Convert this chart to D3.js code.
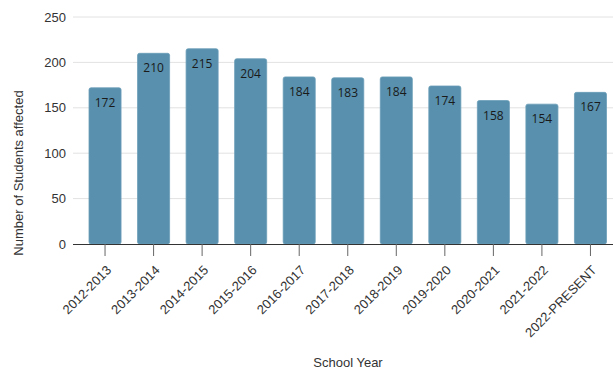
<!DOCTYPE html>
<html><head><meta charset="utf-8">
<script src="https://cdn.jsdelivr.net/npm/d3@7"></script>
<style>body{margin:0;background:#fff;overflow:hidden}svg{display:block}</style>
</head><body>
<script>
const categories = ["2012-2013","2013-2014","2014-2015","2015-2016","2016-2017","2017-2018","2018-2019","2019-2020","2020-2021","2021-2022","2022-PRESENT"];
const values = [172,210,215,204,184,183,184,174,158,154,167];
const yTicks = [0,50,100,150,200,250];

const W = 613, H = 371;
const FONT = "Liberation Sans, Arial, sans-serif";
const svg = d3.select("body").append("svg").attr("width", W).attr("height", H);
const x = d3.scaleBand().domain(categories).range([73, 622.5]).paddingInner(0.34).paddingOuter(0.33);
const y = d3.scaleLinear().domain([0, 250]).range([244, 17]);

// gridlines
svg.append("g").selectAll("line").data(yTicks.filter(d => d > 0)).join("line")
  .attr("x1", 73).attr("x2", W).attr("y1", d => y(d)).attr("y2", d => y(d))
  .attr("stroke", "#e2e2e2").attr("stroke-width", 1);

// y axis labels
const ya = svg.append("g").attr("transform", "translate(73,0)")
  .call(d3.axisLeft(y).tickValues(yTicks).tickSize(0).tickPadding(7));
ya.select(".domain").remove();
ya.selectAll("text").attr("font-family", FONT).attr("font-size", 13).attr("fill", "#333");

// bars
svg.append("g").selectAll("rect").data(values).join("rect")
  .attr("x", (d, i) => x(categories[i]))
  .attr("y", d => y(d))
  .attr("width", x.bandwidth())
  .attr("height", d => y(0) - y(d))
  .attr("rx", 2)
  .attr("fill", "#5890ad")
  .attr("stroke", "#6a9db8").attr("stroke-width", 0.8);

// value labels
svg.append("g").selectAll("text").data(values).join("text")
  .attr("x", (d, i) => x(categories[i]) + x.bandwidth() / 2)
  .attr("y", d => y(d) + 19)
  .attr("text-anchor", "middle")
  .attr("font-family", "Open Sans, DejaVu Sans, sans-serif").attr("font-size", 12)
  .attr("fill", "#1a1a1a")
  .text(d => d);

// x axis
const xa = svg.append("g").attr("transform", "translate(0,244)")
  .call(d3.axisBottom(x).tickSize(12).tickSizeOuter(0));
xa.select(".domain").attr("stroke", "#333").attr("d", "M73,0.5H" + W);
xa.selectAll(".tick line").attr("stroke", "#666");
xa.selectAll("text")
  .attr("font-family", FONT).attr("font-size", 13).attr("fill", "#333")
  .attr("text-anchor", "end")
  .attr("x", 0).attr("y", 0).attr("dx", 0).attr("dy", 0)
  .attr("transform", "translate(7,27) rotate(-45)");

// axis titles
svg.append("text").attr("transform", "translate(22.5,173) rotate(-90)")
  .attr("text-anchor", "middle")
  .attr("font-family", FONT).attr("font-size", 13).attr("fill", "#333")
  .text("Number of Students affected");
svg.append("text").attr("x", 348).attr("y", 366.5)
  .attr("text-anchor", "middle")
  .attr("font-family", FONT).attr("font-size", 13).attr("fill", "#333")
  .text("School Year");
</script>
</body></html>
